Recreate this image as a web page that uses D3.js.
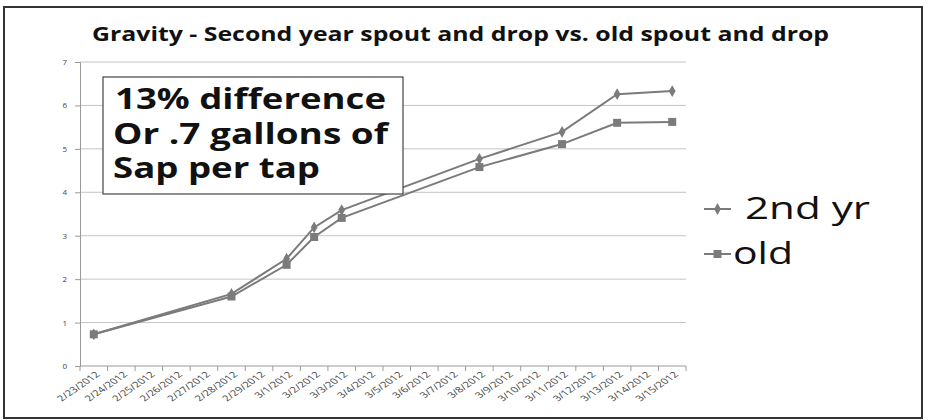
<!DOCTYPE html>
<html>
<head>
<meta charset="utf-8">
<script src="https://cdn.jsdelivr.net/npm/d3@7"></script>
<style>
  html, body { margin: 0; padding: 0; background: #fff; }
  svg { display: block; }
</style>
</head>
<body>
<svg id="chart" width="931" height="420"></svg>
<script>
// Category axis: every day from 2/23 through 3/15
const dateLabels = [
  "2/23/2012","2/24/2012","2/25/2012","2/26/2012","2/27/2012","2/28/2012","2/29/2012",
  "3/1/2012","3/2/2012","3/3/2012","3/4/2012","3/5/2012","3/6/2012","3/7/2012",
  "3/8/2012","3/9/2012","3/10/2012","3/11/2012","3/12/2012","3/13/2012","3/14/2012","3/15/2012"
];
// Days with a reading
const readingDates = ["2/23/2012","2/28/2012","3/1/2012","3/2/2012","3/3/2012","3/8/2012","3/11/2012","3/13/2012","3/15/2012"];
// Cumulative sap per tap (gallons)
const secondYr = [0.73, 1.66, 2.47, 3.19, 3.59, 4.77, 5.39, 6.26, 6.33];
const oldSpout = [0.73, 1.60, 2.33, 2.97, 3.41, 4.58, 5.11, 5.60, 5.62];
const yTicks = [0, 1, 2, 3, 4, 5, 6, 7];
const seriesNames = ["2nd yr", "old"];
const noteLines = ["13% difference", "Or .7 gallons of", "Sap per tap"];
const titleText = "Gravity - Second year spout and drop vs. old spout and drop";

const svg = d3.select("#chart");
const plot = { left: 80, right: 686, top: 62, bottom: 366 };
const lineColor = "#7b7b7b";
const gridColor = "#c4c4c4";
const axisColor = "#9a9a9a";
const labelColor = "#444";
const font = "'Open Sans', sans-serif";
// the chart is drawn wider than tall, so small text glyphs are widened too
const widen = 1.45;

// outer frame
svg.append("rect")
  .attr("x", 4).attr("y", 7).attr("width", 918).attr("height", 411)
  .attr("fill", "#fff").attr("stroke", "#333").attr("stroke-width", 2);

const x = d3.scaleBand().domain(dateLabels).range([plot.left, plot.right]).padding(0);
const y = d3.scaleLinear().domain([0, 7]).range([plot.bottom, plot.top]);
const cx = d => x(d) + x.bandwidth() / 2;

// horizontal gridlines
svg.append("g").selectAll("line").data(yTicks.filter(v => v > 0)).join("line")
  .attr("x1", plot.left).attr("x2", plot.right)
  .attr("y1", d => y(d)).attr("y2", d => y(d))
  .attr("stroke", gridColor).attr("stroke-width", 1);

// y axis
const yAxis = svg.append("g").attr("transform", `translate(${plot.left},0)`)
  .call(d3.axisLeft(y).tickValues(yTicks).tickSize(5).tickPadding(8).tickFormat(d3.format("d")));
yAxis.select(".domain").attr("stroke", axisColor);
yAxis.selectAll(".tick line").attr("stroke", axisColor);
yAxis.selectAll("text").attr("fill", labelColor)
  .style("font-family", font).style("font-size", "8px");

// x axis: ticks at category boundaries
const xg = svg.append("g");
xg.append("line")
  .attr("x1", plot.left).attr("x2", plot.right)
  .attr("y1", plot.bottom).attr("y2", plot.bottom)
  .attr("stroke", axisColor);
const boundaries = dateLabels.map(d => x(d)).concat([plot.right]);
xg.selectAll("line.tk").data(boundaries).join("line").attr("class", "tk")
  .attr("x1", d => d).attr("x2", d => d)
  .attr("y1", plot.bottom).attr("y2", plot.bottom + 5)
  .attr("stroke", axisColor);
xg.selectAll("text").data(dateLabels).join("text")
  .attr("transform", d => `translate(${cx(d) + 4},${plot.bottom + 7}) scale(${widen},1) rotate(-45)`)
  .attr("text-anchor", "end")
  .attr("dy", "0.35em")
  .attr("fill", labelColor)
  .style("font-family", font).style("font-size", "8px")
  .text(d => d);

// series lines and markers
const line = d3.line().x(d => cx(d.date)).y(d => y(d.v));
const toPts = vals => readingDates.map((date, i) => ({ date, v: vals[i] }));
const ptsOld = toPts(oldSpout);
const pts2nd = toPts(secondYr);

svg.append("path").datum(ptsOld).attr("d", line)
  .attr("fill", "none").attr("stroke", lineColor).attr("stroke-width", 2);
svg.append("path").datum(pts2nd).attr("d", line)
  .attr("fill", "none").attr("stroke", lineColor).attr("stroke-width", 2);

const squareSym = d3.symbol().type(d3.symbolSquare).size(64);
const diamondSym = d3.symbol().type(d3.symbolDiamond).size(40);
svg.append("g").selectAll("path").data(ptsOld).join("path")
  .attr("d", squareSym)
  .attr("transform", d => `translate(${cx(d.date)},${y(d.v)})`)
  .attr("fill", lineColor);
svg.append("g").selectAll("path").data(pts2nd).join("path")
  .attr("d", diamondSym)
  .attr("transform", d => `translate(${cx(d.date)},${y(d.v)})`)
  .attr("fill", lineColor);

// title
svg.append("text")
  .attr("x", 92).attr("y", 41)
  .attr("textLength", 737).attr("lengthAdjust", "spacingAndGlyphs")
  .attr("fill", "#111")
  .style("font-family", font).style("font-weight", "bold").style("font-size", "20px")
  .text(titleText);

// annotation box
svg.append("rect")
  .attr("x", 103).attr("y", 77).attr("width", 300).attr("height", 117)
  .attr("fill", "#fff").attr("stroke", "#444").attr("stroke-width", 1.2);
const noteWidths = [271, 275, 207];
const note = svg.append("text")
  .attr("fill", "#111")
  .style("font-family", font).style("font-weight", "bold").style("font-size", "28px");
note.selectAll("tspan").data(noteLines).join("tspan")
  .attr("x", (d, i) => i === 0 ? 115 : 113)
  .attr("y", (d, i) => 109 + i * 34.5)
  .attr("textLength", (d, i) => noteWidths[i])
  .attr("lengthAdjust", "spacingAndGlyphs")
  .text(d => d);

// legend
const legend = svg.append("g");
const legendRows = [
  { name: seriesNames[0], y: 209, sym: diamondSym, tx: 745, base: 219, w: 125 },
  { name: seriesNames[1], y: 254, sym: squareSym, tx: 733, base: 264, w: 60 }
];
legendRows.forEach(r => {
  legend.append("line").attr("x1", 704).attr("x2", 731).attr("y1", r.y).attr("y2", r.y)
    .attr("stroke", lineColor).attr("stroke-width", 2);
  legend.append("path").attr("d", r.sym).attr("transform", `translate(717.5,${r.y})`).attr("fill", lineColor);
  legend.append("text").attr("x", r.tx).attr("y", r.base)
    .attr("textLength", r.w).attr("lengthAdjust", "spacingAndGlyphs")
    .attr("fill", "#111")
    .style("font-family", font).style("font-size", "31px")
    .text(r.name);
});
</script>
</body>
</html>
